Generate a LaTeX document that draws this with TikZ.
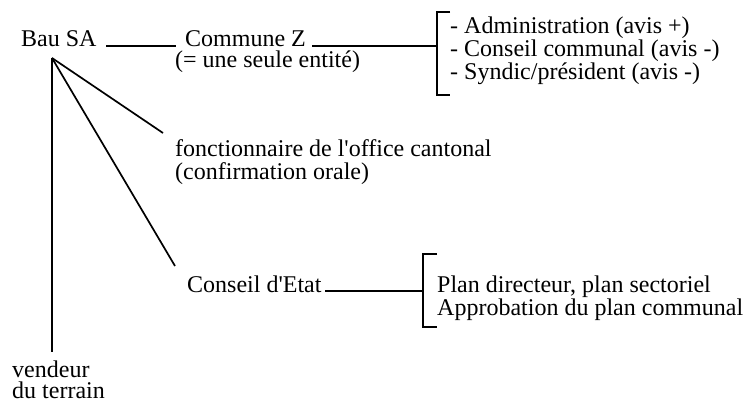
\documentclass[tikz,border=0pt]{standalone}
\usepackage{fontspec}
\setmainfont{Liberation Serif}
\begin{document}
\begin{tikzpicture}[x=1pt,y=-1pt,
  lbl/.style={anchor=base west,inner sep=0pt,align=left,font=\fontsize{24}{23}\selectfont},
  ln/.style={line width=1.7pt,line cap=butt}]
\useasboundingbox (0,0) rectangle (749,403);
% texts (base anchor = baseline of the last line)
\node[lbl] (bau) at (21,47) {Bau SA};
\node[lbl] (commune) at (185,47) {Commune Z};
\node[lbl] (entite) at (175,68) {(= une seule entité)};
\node[lbl] (liste1) at (450,80) {- Administration (avis +)\\- Conseil communal (avis -)\\- Syndic/président (avis -)};
\node[lbl] (fonct) at (175,180) {fonctionnaire de l\textquotesingle office cantonal\\(confirmation orale)};
\node[lbl] (etat) at (187,292) {Conseil d\textquotesingle Etat};
\node[lbl] (liste2) at (437,315) {Plan directeur, plan sectoriel\\Approbation du plan communal};
\node[lbl,font=\fontsize{24}{21}\selectfont] (vendeur) at (12,398) {vendeur\\du terrain};
% connector points
\coordinate (apex) at (52,58);
\coordinate (bauR) at (106,46);
\coordinate (comL) at (176,46);
\coordinate (comR) at (312,46);
\coordinate (b1) at (437,46);
\coordinate (fonctE) at (163,133);
\coordinate (etatE) at (175,266);
\coordinate (vendE) at (52,352);
\coordinate (etatR) at (325,291);
\coordinate (b2) at (423,291);
% connectors
\draw[ln] (bauR) -- (comL);
\draw[ln] (comR) -- (b1);
\draw[ln] (apex) -- (fonctE);
\draw[ln] (apex) -- (etatE);
\draw[ln] (apex) -- (vendE);
\draw[ln] (etatR) -- (b2);
% brackets
\draw[ln] (450,12) -- (437,12) -- (437,95) -- (450,95);
\draw[ln] (437,254) -- (423,254) -- (423,327) -- (437,327);
\end{tikzpicture}
\end{document}
